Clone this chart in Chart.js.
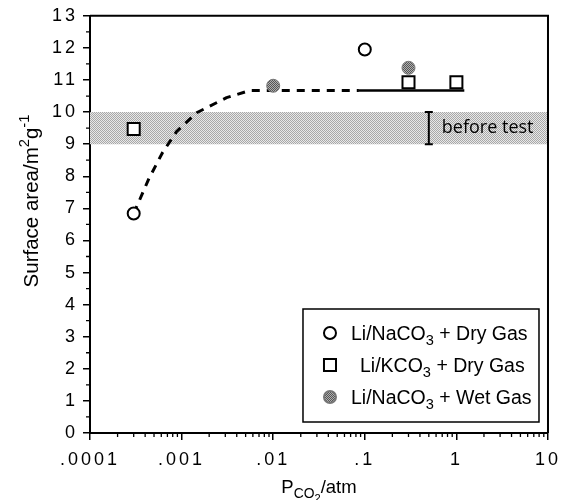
<!DOCTYPE html>
<html>
<head>
<meta charset="utf-8">
<script src="https://cdn.jsdelivr.net/npm/chart.js@4.4.0/dist/chart.umd.min.js"></script>
<style>
  html, body { margin: 0; padding: 0; background: #fff; }
</style>
</head>
<body>
<canvas id="myChart" width="567" height="500"></canvas>
<script>
// Data
const dryNaX = [0.0003, 0.1];
const dryNaY = [6.84, 11.95];
const dryKX = [0.0003, 0.3, 1];
const dryKY = [9.47, 10.93, 10.93];
const wetNaX = [0.01, 0.3];
const wetNaY = [10.82, 11.38];
const curveX = [0.0003, 0.00044, 0.00062, 0.00088, 0.00146, 0.0031, 0.0055, 0.086];
const curveY = [6.84, 7.93, 8.74, 9.39, 9.98, 10.45, 10.67, 10.67];
const plateauX = [0.085, 1.22];
const plateauY = [10.67, 10.67];
const bandRange = [9, 10];
const beforeTestX = 0.5;
const xTickValues = [0.0001, 0.001, 0.01, 0.1, 1, 10];
const xTickLabels = ['.0001', '.001', '.01', '.1', '1', '10'];
const yMin = 0, yMax = 13;

const FONT = '"Liberation Sans", Arial, Helvetica, sans-serif';
const pts = (xs, ys) => xs.map((x, i) => ({ x: x, y: ys[i] }));

const stipple = (a, b) => {
  const c = document.createElement('canvas');
  c.width = 2; c.height = 2;
  const g = c.getContext('2d');
  g.fillStyle = b; g.fillRect(0, 0, 2, 2);
  g.fillStyle = a; g.fillRect(0, 0, 1, 1); g.fillRect(1, 1, 1, 1);
  return g.createPattern(c, 'repeat');
};
const bandFill = stipple('#a8a8a8', '#e8e8e8');
const wetFill = stipple('#555', '#b0b0b0');

// text with sub/superscripts: kind 0 normal, 1 sub, 2 sup, 3 sub-sub
const SPECS = { 0: [1, 0], 1: [0.75, 0.25], 2: [0.72, -0.42], 3: [0.6, 0.5] };
const drawRich = (ctx, parts, x, y, size, center) => {
  let w = 0;
  parts.forEach(([t, k]) => {
    ctx.font = `${size * SPECS[k][0]}px ${FONT}`;
    w += ctx.measureText(t).width;
  });
  let cx = center ? x - w / 2 : x;
  ctx.textAlign = 'left';
  ctx.textBaseline = 'alphabetic';
  parts.forEach(([t, k]) => {
    ctx.font = `${size * SPECS[k][0]}px ${FONT}`;
    ctx.fillText(t, cx, y + size * SPECS[k][1]);
    cx += ctx.measureText(t).width;
  });
};

// wider tick lettering like the original
const spacing = {
  id: 'spacing',
  beforeDraw(chart) { chart.ctx.letterSpacing = '3px'; },
  beforeDatasetsDraw(chart) { chart.ctx.letterSpacing = '0px'; }
};

// minor ticks and the top/right frame
const frame = {
  id: 'frame',
  afterDraw(chart) {
    const ctx = chart.ctx;
    const a = chart.chartArea;
    const xs = chart.scales.x, ys = chart.scales.y;
    ctx.save();
    ctx.setLineDash([]);
    ctx.strokeStyle = '#000';
    ctx.lineWidth = 1.3;
    ctx.beginPath();
    for (let k = yMin; k < yMax; k++) {
      const py = ys.getPixelForValue(k + 0.5);
      ctx.moveTo(a.left - 4, py); ctx.lineTo(a.left, py);
    }
    for (let e = -4; e < 1; e++) {
      for (let d = 2; d < 10; d++) {
        const px = xs.getPixelForValue(d * Math.pow(10, e));
        ctx.moveTo(px, a.bottom); ctx.lineTo(px, a.bottom + 4);
      }
    }
    ctx.stroke();
    ctx.lineWidth = 2;
    ctx.beginPath();
    ctx.moveTo(a.left, a.top); ctx.lineTo(a.right, a.top); ctx.lineTo(a.right, a.bottom);
    ctx.stroke();
    ctx.restore();
  }
};

// titles, "before test" note and the boxed legend
const texts = {
  id: 'texts',
  afterDraw(chart) {
    const ctx = chart.ctx;
    const a = chart.chartArea;
    const xs = chart.scales.x, ys = chart.scales.y;
    ctx.save();
    ctx.setLineDash([]);
    ctx.fillStyle = '#000';
    ctx.letterSpacing = '0px';

    // y title
    ctx.save();
    ctx.translate(31, 201);
    ctx.rotate(-Math.PI / 2);
    drawRich(ctx, [['Surface area/m', 0], ['2', 2], ['g', 0], ['-1', 2]], 0, 7, 20.5, true);
    ctx.restore();

    // x title
    drawRich(ctx, [['P', 0], ['CO', 1], ['2', 3], ['/atm', 0]], (a.left + a.right) / 2, 493, 18.5, true);

    // before test
    ctx.font = '18px "Open Sans", sans-serif';
    ctx.textAlign = 'left';
    ctx.textBaseline = 'middle';
    ctx.fillText('before test', xs.getPixelForValue(beforeTestX) + 13, ys.getPixelForValue((bandRange[0] + bandRange[1]) / 2));

    // legend box
    const bx = a.right - 245, by = 309, bw = 236, bh = 113;
    ctx.lineWidth = 1.5;
    ctx.strokeStyle = '#000';
    ctx.fillStyle = '#fff';
    ctx.fillRect(bx, by, bw, bh);
    ctx.strokeRect(bx, by, bw, bh);
    const rows = [
      { style: 'circle', fill: '#fff', border: '#000', r: 6, tx: 48, parts: [['Li/NaCO', 0], ['3', 1], [' + Dry Gas', 0]] },
      { style: 'rect', fill: '#fff', border: '#000', r: 8.5, tx: 57, parts: [['Li/KCO', 0], ['3', 1], [' + Dry Gas', 0]] },
      { style: 'circle', fill: wetFill, border: '#777', r: 6, tx: 48, parts: [['Li/NaCO', 0], ['3', 1], [' + Wet Gas', 0]] }
    ];
    rows.forEach((row, i) => {
      const cy = by + 24 + i * 32;
      ctx.fillStyle = row.fill;
      ctx.strokeStyle = row.border;
      ctx.lineWidth = 2;
      Chart.helpers.drawPoint(ctx, { pointStyle: row.style, radius: row.r, borderWidth: 2, rotation: 0 }, bx + 27, cy);
      ctx.fillStyle = '#000';
      drawRich(ctx, row.parts, bx + row.tx, cy + 7, 19.5, false);
    });
    ctx.restore();
  }
};

const ctx = document.getElementById('myChart');
const chart = new Chart(ctx, {
  type: 'line',
  data: {
    datasets: [
      {
        label: 'before test band',
        data: pts([xTickValues[0], xTickValues[xTickValues.length - 1]], [bandRange[1], bandRange[1]]),
        borderWidth: 0,
        borderColor: 'rgba(0,0,0,0)',
        pointRadius: 0,
        fill: { value: bandRange[0] },
        backgroundColor: bandFill,
        order: 10
      },
      {
        label: 'fit',
        data: pts(curveX, curveY),
        borderColor: '#000',
        borderWidth: 3,
        borderCapStyle: 'butt',
        borderJoinStyle: 'round',
        borderDash: [8, 7],
        tension: 0,
        pointRadius: 0,
        fill: false,
        order: 5
      },
      {
        label: 'plateau',
        data: pts(plateauX, plateauY),
        borderColor: '#000',
        borderWidth: 2.5,
        pointRadius: 0,
        fill: false,
        order: 5
      },
      {
        label: 'before test range',
        data: pts([beforeTestX, beforeTestX], bandRange),
        borderColor: '#000',
        borderWidth: 2,
        pointStyle: 'line',
        pointRadius: 4,
        pointBorderWidth: 2,
        pointBorderColor: '#000',
        fill: false,
        order: 4
      },
      {
        label: 'Li/NaCO3 + Wet Gas',
        data: pts(wetNaX, wetNaY),
        showLine: false,
        pointStyle: 'circle',
        pointRadius: 6.5,
        pointBackgroundColor: wetFill,
        pointBorderColor: '#777',
        pointBorderWidth: 1,
        order: 2
      },
      {
        label: 'Li/NaCO3 + Dry Gas',
        data: pts(dryNaX, dryNaY),
        showLine: false,
        pointStyle: 'circle',
        pointRadius: 6,
        pointBackgroundColor: '#fff',
        pointBorderColor: '#000',
        pointBorderWidth: 2,
        order: 1
      },
      {
        label: 'Li/KCO3 + Dry Gas',
        data: pts(dryKX, dryKY),
        showLine: false,
        pointStyle: 'rect',
        pointRadius: 8.5,
        pointBackgroundColor: '#fff',
        pointBorderColor: '#000',
        pointBorderWidth: 2,
        order: 0
      }
    ]
  },
  options: {
    responsive: false,
    animation: false,
    layout: { padding: { top: 15, right: 17, left: 0, bottom: 0 } },
    plugins: {
      legend: { display: false },
      tooltip: { enabled: false }
    },
    scales: {
      x: {
        type: 'logarithmic',
        min: xTickValues[0],
        max: xTickValues[xTickValues.length - 1],
        afterBuildTicks: (s) => { s.ticks = xTickValues.map(v => ({ value: v, major: true })); },
        afterFit: (s) => { s.height = 67; },
        ticks: {
          autoSkip: false,
          maxRotation: 0,
          padding: 9,
          color: '#000',
          font: { family: FONT, size: 18 },
          callback: (v, i) => xTickLabels[i]
        },
        grid: { drawOnChartArea: false, tickLength: 7, color: '#000', lineWidth: 1.5 },
        border: { color: '#000', width: 2 }
      },
      y: {
        min: yMin,
        max: yMax,
        afterFit: (s) => { s.width = 90; },
        ticks: {
          stepSize: 1,
          padding: 5,
          color: '#000',
          font: { family: FONT, size: 18 }
        },
        grid: { drawOnChartArea: false, tickLength: 7, color: '#000', lineWidth: 1.5 },
        border: { color: '#000', width: 2 }
      }
    }
  },
  plugins: [spacing, frame, texts]
});
</script>
</body>
</html>
